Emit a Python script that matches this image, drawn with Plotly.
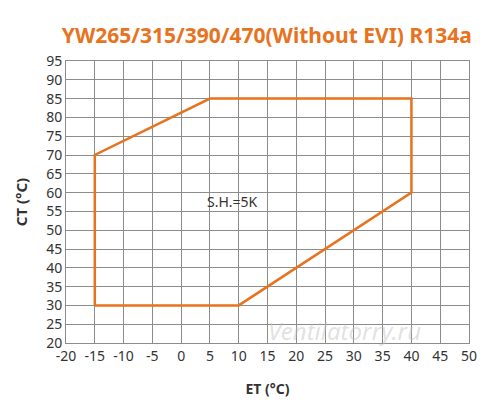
import plotly.graph_objects as go

et = [-15, -15, 5, 40, 40, 10, -15]
ct = [30, 70, 85, 85, 60, 30, 30]
x_ticks = list(range(-20, 55, 5))
y_ticks = list(range(20, 100, 5))
x_labels = [str(v).replace("\u2212", "-") for v in x_ticks]

orange = "#E8731E"
fig = go.Figure()
fig.add_trace(go.Scatter(x=et, y=ct, mode="lines",
                         line=dict(color=orange, width=2.5), hoverinfo="skip"))

fig.add_annotation(x=9, y=57.6, text="S.H.=5K", showarrow=False,
                   font=dict(size=14, color="#333333", family="Noto Sans"))
fig.add_annotation(x=0.69, y=0.045, xref="paper", yref="paper", text="<i>Ventilatorry.ru</i>",
                   xanchor="center", yanchor="middle",
                   showarrow=False, font=dict(size=24, color="rgba(190,190,190,0.45)", family="Noto Sans"))

fig.update_layout(
    width=492, height=407,
    margin=dict(l=58, r=31, t=53, b=72),
    paper_bgcolor="white", plot_bgcolor="white",
    showlegend=False,
    title=dict(text="<b>YW265/315/390/470(Without EVI) R134a</b>", x=0.526, xanchor="center",
               y=0.931, yanchor="middle",
               font=dict(size=21, color=orange, family="Noto Sans")),
    font=dict(family="Noto Sans", color="#333333", size=13),
)
fig.update_xaxes(range=[-20, 50], tickvals=x_ticks, ticktext=x_labels, showgrid=True,
                 gridcolor="#8c8c8c", gridwidth=1, automargin=False,
                 showline=True, linecolor="#8c8c8c", linewidth=1, mirror=True, zeroline=False,
                 ticks="", tickfont=dict(size=14),
                 title=dict(text="<b>ET (°C)</b>", font=dict(size=14), standoff=20))
fig.update_yaxes(range=[20, 95], tickvals=y_ticks, showgrid=True, gridcolor="#8c8c8c", gridwidth=1,
                 showline=True, linecolor="#8c8c8c", linewidth=1, mirror=True, zeroline=False,
                 automargin=False, ticks="", tickfont=dict(size=14),
                 title=dict(text="<b>CT (°C)</b>", font=dict(size=15), standoff=14))
fig.write_html("out.html")
